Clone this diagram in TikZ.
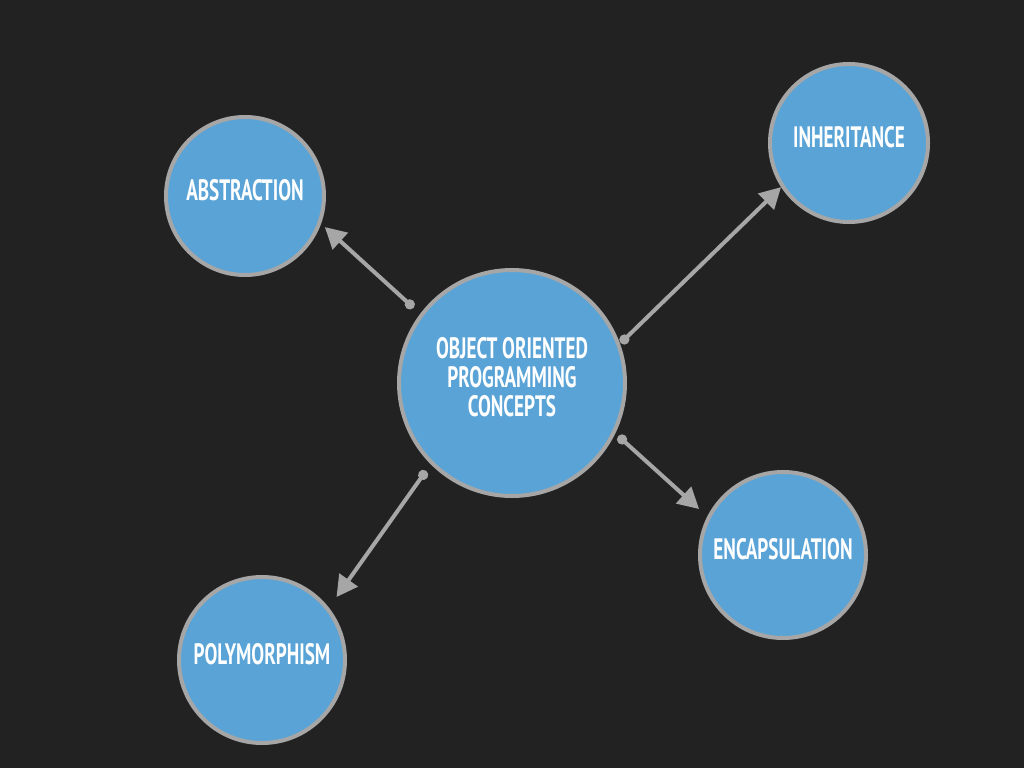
\documentclass[tikz,border=0pt]{standalone}
\usepackage{fontspec}
\setmainfont{PT Sans}[FakeStretch=0.65]
\usetikzlibrary{arrows.meta}

\definecolor{bgdark}{HTML}{222222}
\definecolor{bubbleblue}{HTML}{59A3D6}
\definecolor{rimgray}{HTML}{A6A6A6}

\begin{document}
\begin{tikzpicture}[x=1pt, y=-1pt,
    bubble/.style={circle, draw=rimgray, line width=4pt, fill=bubbleblue,
        text=white, font=\fontsize{29.5}{29}\selectfont\bfseries, align=center,
        inner sep=0pt, text depth=12pt},
    link/.style={draw=rimgray, line width=4pt,
        {Circle[length=10pt]}-{Triangle[length=21pt,width=22pt]}}]

    % Define the canvas
    \useasboundingbox[fill=bgdark] (0,0) rectangle (1024,768);

    % Draw the concept bubbles
    \node[bubble, minimum size=226pt] (oop) at (512,383) {OBJECT ORIENTED\\PROGRAMMING\\CONCEPTS};
    \node[bubble, minimum size=158pt] (abs) at (245,196) {ABSTRACTION};
    \node[bubble, minimum size=158pt] (inh) at (849,143) {INHERITANCE};
    \node[bubble, minimum size=166pt] (enc) at (783,555) {ENCAPSULATION};
    \node[bubble, minimum size=166pt] (poly) at (262,660) {POLYMORPHISM};

    % Draw the arrows
    \draw[link, shorten <=9pt, shorten >=5pt] (oop.143) -- (abs.-20);
    \draw[link, shorten <=1pt] (oop.20) -- (inh.213);
    \draw[link, shorten <=4pt, shorten >=11pt] (oop.-26) -- (enc.153);
    \draw[link, shorten <=8pt, shorten >=13pt] (oop.225) -- (poly.38);

\end{tikzpicture}
\end{document}
